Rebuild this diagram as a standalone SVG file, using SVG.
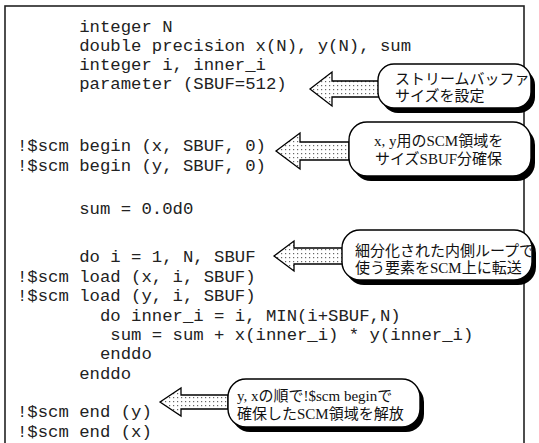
<svg xmlns="http://www.w3.org/2000/svg" width="539" height="443" viewBox="0 0 539 443">
<defs>
<pattern id="dots" width="4" height="4" patternUnits="userSpaceOnUse">
<rect width="4" height="4" fill="#fff"/>
<rect x="1" y="1" width="1.2" height="1.2" fill="#666"/>
</pattern>
<style>
.code{font-family:"Liberation Mono","Courier New",monospace;font-size:17.3px;fill:#222;white-space:pre}
.note{font-family:"Liberation Serif","Noto Sans CJK JP",serif;font-size:15px;fill:#111}
.arrow{fill:url(#dots);stroke:#000;stroke-width:1.3;stroke-linejoin:miter}
.box{fill:#fff;stroke:#000;stroke-width:1.4}
.shadow{fill:#000}
</style>
</defs>
<rect x="5" y="6" width="519" height="460" fill="#fff" stroke="#222" stroke-width="1.6"/>
<g id="code">
<text class="code" x="17" y="32" xml:space="preserve">      integer N</text>
<text class="code" x="17" y="51" xml:space="preserve">      double precision x(N), y(N), sum</text>
<text class="code" x="17" y="70" xml:space="preserve">      integer i, inner_i</text>
<text class="code" x="17" y="89" xml:space="preserve">      parameter (SBUF=512)</text>
<text class="code" x="17" y="151" xml:space="preserve">!$scm begin (x, SBUF, 0)</text>
<text class="code" x="17" y="171" xml:space="preserve">!$scm begin (y, SBUF, 0)</text>
<text class="code" x="17" y="214" xml:space="preserve">      sum = 0.0d0</text>
<text class="code" x="17" y="262" xml:space="preserve">      do i = 1, N, SBUF</text>
<text class="code" x="17" y="282" xml:space="preserve">!$scm load (x, i, SBUF)</text>
<text class="code" x="17" y="301" xml:space="preserve">!$scm load (y, i, SBUF)</text>
<text class="code" x="17" y="321" xml:space="preserve">        do inner_i = i, MIN(i+SBUF,N)</text>
<text class="code" x="17" y="340" xml:space="preserve">         sum = sum + x(inner_i) * y(inner_i)</text>
<text class="code" x="17" y="359" xml:space="preserve">        enddo</text>
<text class="code" x="17" y="379" xml:space="preserve">      enddo</text>
<text class="code" x="17" y="417" xml:space="preserve">!$scm end (y)</text>
<text class="code" x="17" y="437" xml:space="preserve">!$scm end (x)</text>
</g>
<g id="connectors">
<polygon class="arrow" points="310,89 332,72 332,81 379,81 379,97 332,97 332,106"/>
<polygon class="arrow" points="276,151 300,133 300,142 349,142 349,160 300,160 300,169"/>
<polygon class="arrow" points="274,256 294,241 294,248 343,248 343,264 294,264 294,271"/>
<polygon class="arrow" points="160,402 181,388 181,395 228,395 228,409 181,409 181,416"/>
</g>
<g id="note1">
<rect class="shadow" x="382" y="69" width="153" height="44" rx="16"/>
<rect class="box" x="378" y="64" width="153" height="44" rx="16"/>
<text class="note" x="395" y="84">ストリームバッファ</text>
<text class="note" x="395" y="101">サイズを設定</text>
</g>
<g id="note2">
<rect class="shadow" x="353" y="127" width="182" height="54" rx="18"/>
<rect class="box" x="349" y="122" width="182" height="54" rx="18"/>
<text class="note" x="374" y="146">x, y用のSCM領域を</text>
<text class="note" x="375" y="164">サイズSBUF分確保</text>
</g>
<g id="note3">
<rect class="shadow" x="346" y="235" width="190" height="50" rx="18"/>
<rect class="box" x="342" y="230" width="190" height="50" rx="18"/>
<text class="note" x="355" y="256">細分化された内側ループで</text>
<text class="note" x="355" y="273">使う要素をSCM上に転送</text>
</g>
<g id="note4">
<rect class="shadow" x="232" y="384" width="192" height="48" rx="18"/>
<rect class="box" x="228" y="379" width="192" height="48" rx="18"/>
<text class="note" x="237" y="401">y, xの順で!$scm beginで</text>
<text class="note" x="237" y="419">確保したSCM領域を解放</text>
</g>
</svg>
